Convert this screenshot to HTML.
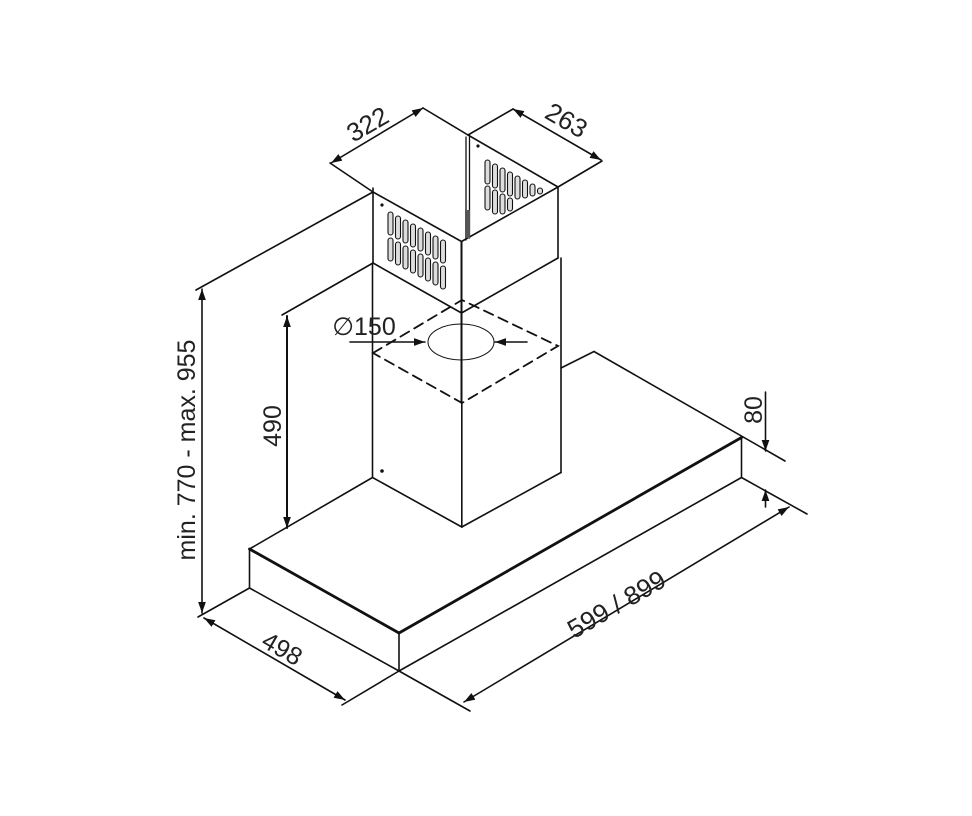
<!DOCTYPE html>
<html><head><meta charset="utf-8"><style>
html,body{margin:0;padding:0;background:#fff;}
svg{display:block;}
text{font-family:"Liberation Sans",sans-serif;fill:#222;}
</style></head><body>
<svg width="972" height="816" viewBox="0 0 972 816" xmlns="http://www.w3.org/2000/svg">
<defs>
<marker id="a" viewBox="0 0 10 10" refX="10" refY="5" markerWidth="11" markerHeight="11" markerUnits="userSpaceOnUse" orient="auto-start-reverse"><path d="M0,1.5 L10,5 L0,8.5 z" fill="#111"/></marker>
</defs>
<g stroke="#111" stroke-width="1.6" fill="none" stroke-linecap="round">
<!-- hood -->
<line x1="249.5" y1="549" x2="372.5" y2="477.5"/>
<line x1="561" y1="368" x2="594" y2="351.5"/>
<line x1="594" y1="351.5" x2="785" y2="461"/>
<line x1="249.5" y1="549" x2="249.5" y2="588"/>
<line x1="249.5" y1="549" x2="399" y2="633" stroke-width="2.8"/>
<line x1="399" y1="633" x2="741.5" y2="437.5" stroke-width="2.8"/>
<line x1="249.5" y1="588" x2="399" y2="671"/>
<line x1="399" y1="633" x2="399" y2="671"/>
<line x1="399" y1="671" x2="741.5" y2="477.5"/>
<line x1="741.5" y1="437.5" x2="741.5" y2="477.5"/>
<line x1="741.5" y1="477.5" x2="807" y2="514"/>
<!-- lower chimney -->
<line x1="372.5" y1="263" x2="372.5" y2="477.5"/>
<line x1="461.8" y1="403" x2="461.8" y2="527"/>
<line x1="372.5" y1="477.5" x2="461.8" y2="527"/>
<line x1="461.8" y1="527" x2="561" y2="472.5"/>
<line x1="561" y1="258" x2="561" y2="472.5"/>
<!-- upper chimney -->
<line x1="373" y1="192" x2="461.5" y2="241.5"/>
<line x1="373" y1="263" x2="461.5" y2="313"/>
<line x1="461.5" y1="241.5" x2="558" y2="187"/>
<line x1="461.5" y1="313" x2="558" y2="258"/>
<line x1="558" y1="187" x2="558" y2="258"/>
<line x1="373" y1="188" x2="373" y2="263"/>
<line x1="461.5" y1="241.5" x2="461.5" y2="403" stroke-width="2"/>
<line x1="466" y1="137" x2="466" y2="240" stroke-width="1.3"/>
<line x1="469.5" y1="135" x2="469.5" y2="238" stroke-width="1.3"/>
<rect x="465" y="210" width="5" height="28" fill="#555" stroke="none"/>
<line x1="373" y1="192" x2="196" y2="290"/>
<line x1="373" y1="263" x2="282" y2="315"/>
<!-- top extension lines -->
<line x1="373" y1="192" x2="330" y2="163"/>
<line x1="468" y1="135" x2="423" y2="108"/>
<line x1="468" y1="135" x2="513" y2="109"/>
<line x1="558" y1="187" x2="602" y2="161"/>
<line x1="468" y1="135" x2="558" y2="187"/>
<!-- dashed -->
<g stroke-dasharray="10,6" stroke-width="1.8">
<path d="M373,353 L462,300 L558,346 L462,403 Z"/>
</g>
<ellipse cx="461" cy="342" rx="33" ry="18" stroke-width="1"/>
<line x1="350" y1="342" x2="425" y2="342" marker-end="url(#a)"/>
<line x1="527" y1="342" x2="495" y2="342" marker-end="url(#a)"/>
<line x1="461.5" y1="320" x2="461.5" y2="364"/>
<!-- dims -->
<line x1="331" y1="163" x2="423" y2="108" marker-start="url(#a)" marker-end="url(#a)"/>
<line x1="513" y1="109" x2="601" y2="160" marker-start="url(#a)" marker-end="url(#a)"/>
<line x1="202" y1="289" x2="202" y2="613" marker-start="url(#a)" marker-end="url(#a)"/>
<line x1="287" y1="316" x2="287" y2="528" marker-start="url(#a)" marker-end="url(#a)" stroke-width="2"/>
<line x1="249.5" y1="588" x2="198" y2="617"/>
<line x1="204" y1="618" x2="345" y2="700" marker-start="url(#a)" marker-end="url(#a)"/>
<line x1="399" y1="671" x2="342" y2="705"/>
<line x1="399" y1="671" x2="470" y2="711"/>
<line x1="464" y1="702" x2="789" y2="507" marker-start="url(#a)" marker-end="url(#a)"/>
<line x1="765.5" y1="392" x2="765.5" y2="451" marker-end="url(#a)"/>
<line x1="765.5" y1="507" x2="765.5" y2="490" marker-end="url(#a)"/>
</g>
<!-- vents -->
<g fill="#ddd" stroke="#111" stroke-width="1.1">
<g id="r1">
<rect x="388" y="212" width="5" height="23" rx="2.5"/>
<rect x="395.5" y="216" width="5" height="23" rx="2.5"/>
<rect x="403" y="220" width="5" height="23" rx="2.5"/>
<rect x="410.5" y="224" width="5" height="23" rx="2.5"/>
<rect x="418" y="228" width="5" height="23" rx="2.5"/>
<rect x="425.5" y="232" width="5" height="23" rx="2.5"/>
<rect x="433" y="236" width="5" height="23" rx="2.5"/>
<rect x="440.5" y="240" width="5" height="23" rx="2.5"/>
</g>
<use href="#r1" transform="translate(0,26)"/>
<rect x="485" y="160" width="5" height="24" rx="2.5"/>
<rect x="492.5" y="164" width="5" height="24" rx="2.5"/>
<rect x="500" y="168" width="5" height="24" rx="2.5"/>
<rect x="507.5" y="172" width="5" height="24" rx="2.5"/>
<rect x="515" y="176" width="5" height="23" rx="2.5"/>
<rect x="522.5" y="180" width="5" height="18" rx="2.5"/>
<rect x="530" y="184" width="5" height="12" rx="2.5"/>
<rect x="537.5" y="188" width="5" height="6" rx="2.5"/>
<rect x="485" y="186" width="5" height="24" rx="2.5"/>
<rect x="492.5" y="190" width="5" height="24" rx="2.5"/>
<rect x="500" y="194" width="5" height="20" rx="2.5"/>
<rect x="507.5" y="198" width="5" height="13" rx="2.5"/>
</g>
<circle cx="382" cy="205" r="1.6" fill="#111"/>
<circle cx="478" cy="146" r="1.6" fill="#111"/>
<circle cx="382" cy="471" r="1.8" fill="#111"/>
<!-- labels -->
<text x="372" y="132" font-size="26" text-anchor="middle" transform="rotate(-30 372 132)">322</text>
<text x="562" y="128" font-size="26" text-anchor="middle" transform="rotate(30 562 128)">263</text>
<text x="364" y="335" font-size="25" text-anchor="middle">∅150</text>
<text x="195" y="450" font-size="25" text-anchor="middle" transform="rotate(-90 195 450)">min. 770 - max. 955</text>
<text x="281" y="426" font-size="25" text-anchor="middle" transform="rotate(-90 281 426)">490</text>
<text x="762" y="410" font-size="25" text-anchor="middle" transform="rotate(-90 762 410)">80</text>
<text x="278" y="656" font-size="25" text-anchor="middle" transform="rotate(30 278 656)">498</text>
<text x="621" y="612" font-size="26" text-anchor="middle" transform="rotate(-30 621 612)">599 / 899</text>
</svg>
</body></html>
